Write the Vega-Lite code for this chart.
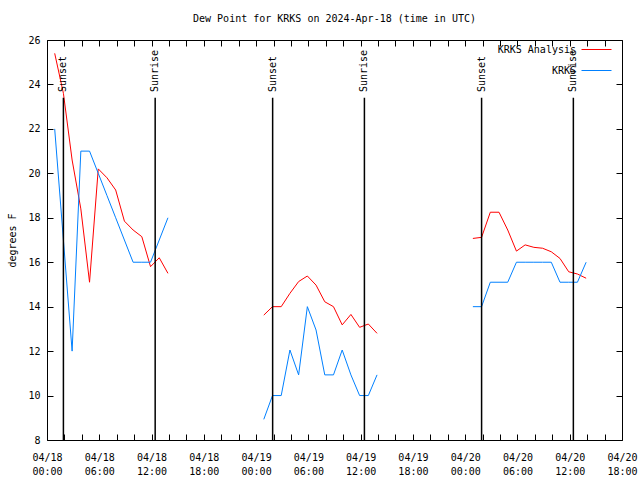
{
  "$schema": "https://vega.github.io/schema/vega-lite/v6.json",
  "autosize": "none",
  "width": 575,
  "height": 400,
  "padding": {"left": 47, "top": 40, "right": 18, "bottom": 40},
  "background": "white",
  "title": {"text": "Dew Point for KRKS on 2024-Apr-18 (time in UTC)", "font": "DejaVu Sans Mono", "fontSize": 10, "fontWeight": "normal", "offset": 10, "anchor": "middle", "color": "black"},
  "config": {"view": {"stroke": "black", "strokeWidth": 1}, "font": "DejaVu Sans Mono"},
  "datasets": {
    "ticks": [
      {"year": 2024, "month": 4, "date": 18, "hours": 0, "utc": true},
      {"year": 2024, "month": 4, "date": 18, "hours": 2, "utc": true}
    ],
    "obs": [
      {"t": "2024-04-18T00:53:00Z", "series": "KRKS Analysis", "seg": 1, "v": 25.4},
      {"t": "2024-04-18T01:53:00Z", "series": "KRKS Analysis", "seg": 1, "v": 23.6},
      {"t": "2024-04-18T02:53:00Z", "series": "KRKS Analysis", "seg": 1, "v": 20.6},
      {"t": "2024-04-18T03:53:00Z", "series": "KRKS Analysis", "seg": 1, "v": 18.4},
      {"t": "2024-04-18T04:53:00Z", "series": "KRKS Analysis", "seg": 1, "v": 15.1},
      {"t": "2024-04-18T05:53:00Z", "series": "KRKS Analysis", "seg": 1, "v": 20.2},
      {"t": "2024-04-18T06:53:00Z", "series": "KRKS Analysis", "seg": 1, "v": 19.8},
      {"t": "2024-04-18T07:53:00Z", "series": "KRKS Analysis", "seg": 1, "v": 19.25},
      {"t": "2024-04-18T08:53:00Z", "series": "KRKS Analysis", "seg": 1, "v": 17.85},
      {"t": "2024-04-18T09:53:00Z", "series": "KRKS Analysis", "seg": 1, "v": 17.45},
      {"t": "2024-04-18T10:53:00Z", "series": "KRKS Analysis", "seg": 1, "v": 17.15},
      {"t": "2024-04-18T11:53:00Z", "series": "KRKS Analysis", "seg": 1, "v": 15.8},
      {"t": "2024-04-18T12:53:00Z", "series": "KRKS Analysis", "seg": 1, "v": 16.2},
      {"t": "2024-04-18T13:53:00Z", "series": "KRKS Analysis", "seg": 1, "v": 15.5},
      {"t": "2024-04-19T00:53:00Z", "series": "KRKS Analysis", "seg": 2, "v": 13.62},
      {"t": "2024-04-19T01:53:00Z", "series": "KRKS Analysis", "seg": 2, "v": 14.0},
      {"t": "2024-04-19T02:53:00Z", "series": "KRKS Analysis", "seg": 2, "v": 14.0},
      {"t": "2024-04-19T03:53:00Z", "series": "KRKS Analysis", "seg": 2, "v": 14.6},
      {"t": "2024-04-19T04:53:00Z", "series": "KRKS Analysis", "seg": 2, "v": 15.13},
      {"t": "2024-04-19T05:53:00Z", "series": "KRKS Analysis", "seg": 2, "v": 15.38},
      {"t": "2024-04-19T06:53:00Z", "series": "KRKS Analysis", "seg": 2, "v": 14.97},
      {"t": "2024-04-19T07:53:00Z", "series": "KRKS Analysis", "seg": 2, "v": 14.22},
      {"t": "2024-04-19T08:53:00Z", "series": "KRKS Analysis", "seg": 2, "v": 14.0},
      {"t": "2024-04-19T09:53:00Z", "series": "KRKS Analysis", "seg": 2, "v": 13.18},
      {"t": "2024-04-19T10:53:00Z", "series": "KRKS Analysis", "seg": 2, "v": 13.65},
      {"t": "2024-04-19T11:53:00Z", "series": "KRKS Analysis", "seg": 2, "v": 13.07},
      {"t": "2024-04-19T12:53:00Z", "series": "KRKS Analysis", "seg": 2, "v": 13.22},
      {"t": "2024-04-19T13:53:00Z", "series": "KRKS Analysis", "seg": 2, "v": 12.8},
      {"t": "2024-04-20T00:53:00Z", "series": "KRKS Analysis", "seg": 3, "v": 17.07},
      {"t": "2024-04-20T01:53:00Z", "series": "KRKS Analysis", "seg": 3, "v": 17.12},
      {"t": "2024-04-20T02:53:00Z", "series": "KRKS Analysis", "seg": 3, "v": 18.25},
      {"t": "2024-04-20T03:53:00Z", "series": "KRKS Analysis", "seg": 3, "v": 18.25},
      {"t": "2024-04-20T04:53:00Z", "series": "KRKS Analysis", "seg": 3, "v": 17.45},
      {"t": "2024-04-20T05:53:00Z", "series": "KRKS Analysis", "seg": 3, "v": 16.5},
      {"t": "2024-04-20T06:53:00Z", "series": "KRKS Analysis", "seg": 3, "v": 16.78},
      {"t": "2024-04-20T07:53:00Z", "series": "KRKS Analysis", "seg": 3, "v": 16.67},
      {"t": "2024-04-20T08:53:00Z", "series": "KRKS Analysis", "seg": 3, "v": 16.63},
      {"t": "2024-04-20T09:53:00Z", "series": "KRKS Analysis", "seg": 3, "v": 16.47},
      {"t": "2024-04-20T10:53:00Z", "series": "KRKS Analysis", "seg": 3, "v": 16.17},
      {"t": "2024-04-20T11:53:00Z", "series": "KRKS Analysis", "seg": 3, "v": 15.57},
      {"t": "2024-04-20T12:53:00Z", "series": "KRKS Analysis", "seg": 3, "v": 15.47},
      {"t": "2024-04-20T13:53:00Z", "series": "KRKS Analysis", "seg": 3, "v": 15.28},
      {"t": "2024-04-18T00:53:00Z", "series": "KRKS", "seg": 1, "v": 22.0},
      {"t": "2024-04-18T01:53:00Z", "series": "KRKS", "seg": 1, "v": 17.0},
      {"t": "2024-04-18T02:53:00Z", "series": "KRKS", "seg": 1, "v": 12.0},
      {"t": "2024-04-18T03:53:00Z", "series": "KRKS", "seg": 1, "v": 21.0},
      {"t": "2024-04-18T04:53:00Z", "series": "KRKS", "seg": 1, "v": 21.0},
      {"t": "2024-04-18T05:53:00Z", "series": "KRKS", "seg": 1, "v": 20.0},
      {"t": "2024-04-18T06:53:00Z", "series": "KRKS", "seg": 1, "v": 19.0},
      {"t": "2024-04-18T07:53:00Z", "series": "KRKS", "seg": 1, "v": 18.0},
      {"t": "2024-04-18T08:53:00Z", "series": "KRKS", "seg": 1, "v": 17.0},
      {"t": "2024-04-18T09:53:00Z", "series": "KRKS", "seg": 1, "v": 16.0},
      {"t": "2024-04-18T10:53:00Z", "series": "KRKS", "seg": 1, "v": 16.0},
      {"t": "2024-04-18T11:53:00Z", "series": "KRKS", "seg": 1, "v": 16.0},
      {"t": "2024-04-18T12:53:00Z", "series": "KRKS", "seg": 1, "v": 17.0},
      {"t": "2024-04-18T13:53:00Z", "series": "KRKS", "seg": 1, "v": 18.0},
      {"t": "2024-04-19T00:53:00Z", "series": "KRKS", "seg": 2, "v": 8.93},
      {"t": "2024-04-19T01:53:00Z", "series": "KRKS", "seg": 2, "v": 10.0},
      {"t": "2024-04-19T02:53:00Z", "series": "KRKS", "seg": 2, "v": 10.0},
      {"t": "2024-04-19T03:53:00Z", "series": "KRKS", "seg": 2, "v": 12.05},
      {"t": "2024-04-19T04:53:00Z", "series": "KRKS", "seg": 2, "v": 10.93},
      {"t": "2024-04-19T05:53:00Z", "series": "KRKS", "seg": 2, "v": 14.0},
      {"t": "2024-04-19T06:53:00Z", "series": "KRKS", "seg": 2, "v": 12.95},
      {"t": "2024-04-19T07:53:00Z", "series": "KRKS", "seg": 2, "v": 10.93},
      {"t": "2024-04-19T08:53:00Z", "series": "KRKS", "seg": 2, "v": 10.93},
      {"t": "2024-04-19T09:53:00Z", "series": "KRKS", "seg": 2, "v": 12.05},
      {"t": "2024-04-19T10:53:00Z", "series": "KRKS", "seg": 2, "v": 10.93},
      {"t": "2024-04-19T11:53:00Z", "series": "KRKS", "seg": 2, "v": 10.0},
      {"t": "2024-04-19T12:53:00Z", "series": "KRKS", "seg": 2, "v": 10.0},
      {"t": "2024-04-19T13:53:00Z", "series": "KRKS", "seg": 2, "v": 10.93},
      {"t": "2024-04-20T00:53:00Z", "series": "KRKS", "seg": 3, "v": 14.0},
      {"t": "2024-04-20T01:53:00Z", "series": "KRKS", "seg": 3, "v": 14.0},
      {"t": "2024-04-20T02:53:00Z", "series": "KRKS", "seg": 3, "v": 15.1},
      {"t": "2024-04-20T03:53:00Z", "series": "KRKS", "seg": 3, "v": 15.1},
      {"t": "2024-04-20T04:53:00Z", "series": "KRKS", "seg": 3, "v": 15.1},
      {"t": "2024-04-20T05:53:00Z", "series": "KRKS", "seg": 3, "v": 16.0},
      {"t": "2024-04-20T06:53:00Z", "series": "KRKS", "seg": 3, "v": 16.0},
      {"t": "2024-04-20T07:53:00Z", "series": "KRKS", "seg": 3, "v": 16.0},
      {"t": "2024-04-20T08:53:00Z", "series": "KRKS", "seg": 3, "v": 16.0},
      {"t": "2024-04-20T09:53:00Z", "series": "KRKS", "seg": 3, "v": 16.0},
      {"t": "2024-04-20T10:53:00Z", "series": "KRKS", "seg": 3, "v": 15.1},
      {"t": "2024-04-20T11:53:00Z", "series": "KRKS", "seg": 3, "v": 15.1},
      {"t": "2024-04-20T12:53:00Z", "series": "KRKS", "seg": 3, "v": 15.1},
      {"t": "2024-04-20T13:53:00Z", "series": "KRKS", "seg": 3, "v": 16.0}
    ],
    "sun": [
      {"t": "2024-04-18T01:53:00Z", "label": "Sunset"},
      {"t": "2024-04-18T12:25:00Z", "label": "Sunrise"},
      {"t": "2024-04-19T01:54:00Z", "label": "Sunset"},
      {"t": "2024-04-19T12:26:00Z", "label": "Sunrise"},
      {"t": "2024-04-20T01:53:00Z", "label": "Sunset"},
      {"t": "2024-04-20T12:25:00Z", "label": "Sunrise"}
    ]
  },
  "resolve": {"axis": {"x": "independent", "y": "independent"}},
  "layer": [
    {
      "data": {"name": "obs"},
      "mark": {"type": "line", "strokeWidth": 1},
      "encoding": {
        "x": {
          "field": "t", "type": "temporal",
          "scale": {"domain": ["2024-04-18T00:00:00Z", "2024-04-20T18:00:00Z"], "nice": false},
          "axis": {
            "orient": "bottom", "title": null, "grid": false, "domain": false,
            "values": [
              {"year": 2024, "month": 4, "date": 18, "hours": 0, "utc": true},
              {"year": 2024, "month": 4, "date": 18, "hours": 2, "utc": true},
              {"year": 2024, "month": 4, "date": 18, "hours": 4, "utc": true},
              {"year": 2024, "month": 4, "date": 18, "hours": 6, "utc": true},
              {"year": 2024, "month": 4, "date": 18, "hours": 8, "utc": true},
              {"year": 2024, "month": 4, "date": 18, "hours": 10, "utc": true},
              {"year": 2024, "month": 4, "date": 18, "hours": 12, "utc": true},
              {"year": 2024, "month": 4, "date": 18, "hours": 14, "utc": true},
              {"year": 2024, "month": 4, "date": 18, "hours": 16, "utc": true},
              {"year": 2024, "month": 4, "date": 18, "hours": 18, "utc": true},
              {"year": 2024, "month": 4, "date": 18, "hours": 20, "utc": true},
              {"year": 2024, "month": 4, "date": 18, "hours": 22, "utc": true},
              {"year": 2024, "month": 4, "date": 19, "hours": 0, "utc": true},
              {"year": 2024, "month": 4, "date": 19, "hours": 2, "utc": true},
              {"year": 2024, "month": 4, "date": 19, "hours": 4, "utc": true},
              {"year": 2024, "month": 4, "date": 19, "hours": 6, "utc": true},
              {"year": 2024, "month": 4, "date": 19, "hours": 8, "utc": true},
              {"year": 2024, "month": 4, "date": 19, "hours": 10, "utc": true},
              {"year": 2024, "month": 4, "date": 19, "hours": 12, "utc": true},
              {"year": 2024, "month": 4, "date": 19, "hours": 14, "utc": true},
              {"year": 2024, "month": 4, "date": 19, "hours": 16, "utc": true},
              {"year": 2024, "month": 4, "date": 19, "hours": 18, "utc": true},
              {"year": 2024, "month": 4, "date": 19, "hours": 20, "utc": true},
              {"year": 2024, "month": 4, "date": 19, "hours": 22, "utc": true},
              {"year": 2024, "month": 4, "date": 20, "hours": 0, "utc": true},
              {"year": 2024, "month": 4, "date": 20, "hours": 2, "utc": true},
              {"year": 2024, "month": 4, "date": 20, "hours": 4, "utc": true},
              {"year": 2024, "month": 4, "date": 20, "hours": 6, "utc": true},
              {"year": 2024, "month": 4, "date": 20, "hours": 8, "utc": true},
              {"year": 2024, "month": 4, "date": 20, "hours": 10, "utc": true},
              {"year": 2024, "month": 4, "date": 20, "hours": 12, "utc": true},
              {"year": 2024, "month": 4, "date": 20, "hours": 14, "utc": true},
              {"year": 2024, "month": 4, "date": 20, "hours": 16, "utc": true},
              {"year": 2024, "month": 4, "date": 20, "hours": 18, "utc": true}
            ],
            "tickCount": 100,
            "tickSize": -6, "tickColor": "black", "labelPadding": 18,
            "labelExpr": "utchours(datum.value) % 6 == 0 ? [utcFormat(datum.value, '%m/%d'), utcFormat(datum.value, '%H:%M')] : ''",
            "labelOverlap": false, "labelFlush": false, "labelBound": false, "labelBaseline": "top", "labelLineHeight": 14,
            "labelFont": "DejaVu Sans Mono", "labelFontSize": 10, "labelColor": "black"
          }
        },
        "y": {
          "field": "v", "type": "quantitative",
          "scale": {"domain": [8, 26], "nice": false, "zero": false},
          "axis": {
            "orient": "left", "values": [8, 10, 12, 14, 16, 18, 20, 22, 24, 26], "grid": false, "domain": false,
            "tickSize": -6, "tickColor": "black", "labelPadding": 13,
            "labelFont": "DejaVu Sans Mono", "labelFontSize": 10, "labelColor": "black",
            "title": "degrees F", "titleFont": "DejaVu Sans Mono", "titleFontSize": 10, "titleFontWeight": "normal", "titleColor": "black", "titlePadding": 10
          }
        },
        "color": {
          "field": "series", "type": "nominal",
          "scale": {"domain": ["KRKS Analysis", "KRKS"], "range": ["#ff0000", "#0080ff"]},
          "legend": {
            "orient": "none", "legendX": 534, "legendY": -6, "title": null,
            "symbolType": "stroke", "symbolSize": 900, "symbolStrokeWidth": 1,
            "labelAlign": "right", "labelOffset": -36,
            "labelFont": "DejaVu Sans Mono", "labelFontSize": 10, "labelColor": "black", "rowPadding": -16
          }
        },
        "detail": {"field": "seg", "type": "nominal"}
      }
    },
    {
      "data": {"name": "sun"},
      "mark": {"type": "rule", "color": "black", "strokeWidth": 1.5},
      "encoding": {
        "x": {
          "field": "t", "type": "temporal",
          "axis": {
            "orient": "top", "title": null, "labels": false, "grid": false, "domain": false,
            "values": [
              {"year": 2024, "month": 4, "date": 18, "hours": 0, "utc": true},
              {"year": 2024, "month": 4, "date": 18, "hours": 2, "utc": true},
              {"year": 2024, "month": 4, "date": 18, "hours": 4, "utc": true},
              {"year": 2024, "month": 4, "date": 18, "hours": 6, "utc": true},
              {"year": 2024, "month": 4, "date": 18, "hours": 8, "utc": true},
              {"year": 2024, "month": 4, "date": 18, "hours": 10, "utc": true},
              {"year": 2024, "month": 4, "date": 18, "hours": 12, "utc": true},
              {"year": 2024, "month": 4, "date": 18, "hours": 14, "utc": true},
              {"year": 2024, "month": 4, "date": 18, "hours": 16, "utc": true},
              {"year": 2024, "month": 4, "date": 18, "hours": 18, "utc": true},
              {"year": 2024, "month": 4, "date": 18, "hours": 20, "utc": true},
              {"year": 2024, "month": 4, "date": 18, "hours": 22, "utc": true},
              {"year": 2024, "month": 4, "date": 19, "hours": 0, "utc": true},
              {"year": 2024, "month": 4, "date": 19, "hours": 2, "utc": true},
              {"year": 2024, "month": 4, "date": 19, "hours": 4, "utc": true},
              {"year": 2024, "month": 4, "date": 19, "hours": 6, "utc": true},
              {"year": 2024, "month": 4, "date": 19, "hours": 8, "utc": true},
              {"year": 2024, "month": 4, "date": 19, "hours": 10, "utc": true},
              {"year": 2024, "month": 4, "date": 19, "hours": 12, "utc": true},
              {"year": 2024, "month": 4, "date": 19, "hours": 14, "utc": true},
              {"year": 2024, "month": 4, "date": 19, "hours": 16, "utc": true},
              {"year": 2024, "month": 4, "date": 19, "hours": 18, "utc": true},
              {"year": 2024, "month": 4, "date": 19, "hours": 20, "utc": true},
              {"year": 2024, "month": 4, "date": 19, "hours": 22, "utc": true},
              {"year": 2024, "month": 4, "date": 20, "hours": 0, "utc": true},
              {"year": 2024, "month": 4, "date": 20, "hours": 2, "utc": true},
              {"year": 2024, "month": 4, "date": 20, "hours": 4, "utc": true},
              {"year": 2024, "month": 4, "date": 20, "hours": 6, "utc": true},
              {"year": 2024, "month": 4, "date": 20, "hours": 8, "utc": true},
              {"year": 2024, "month": 4, "date": 20, "hours": 10, "utc": true},
              {"year": 2024, "month": 4, "date": 20, "hours": 12, "utc": true},
              {"year": 2024, "month": 4, "date": 20, "hours": 14, "utc": true},
              {"year": 2024, "month": 4, "date": 20, "hours": 16, "utc": true},
              {"year": 2024, "month": 4, "date": 20, "hours": 18, "utc": true}
            ],
            "tickCount": 100, "tickSize": -6, "tickColor": "black"
          }
        },
        "y": {
          "datum": 23.4, "type": "quantitative",
          "axis": {"orient": "right", "title": null, "labels": false, "grid": false, "domain": false, "values": [8, 10, 12, 14, 16, 18, 20, 22, 24, 26], "tickSize": -6, "tickColor": "black"}
        },
        "y2": {"datum": 8}
      }
    },
    {
      "data": {"name": "sun"},
      "mark": {"type": "text", "angle": 270, "align": "left", "baseline": "middle", "font": "DejaVu Sans Mono", "fontSize": 10, "color": "black"},
      "encoding": {
        "x": {"field": "t", "type": "temporal", "axis": null},
        "y": {"datum": 23.66, "type": "quantitative", "axis": null},
        "text": {"field": "label"}
      }
    }
  ]
}
